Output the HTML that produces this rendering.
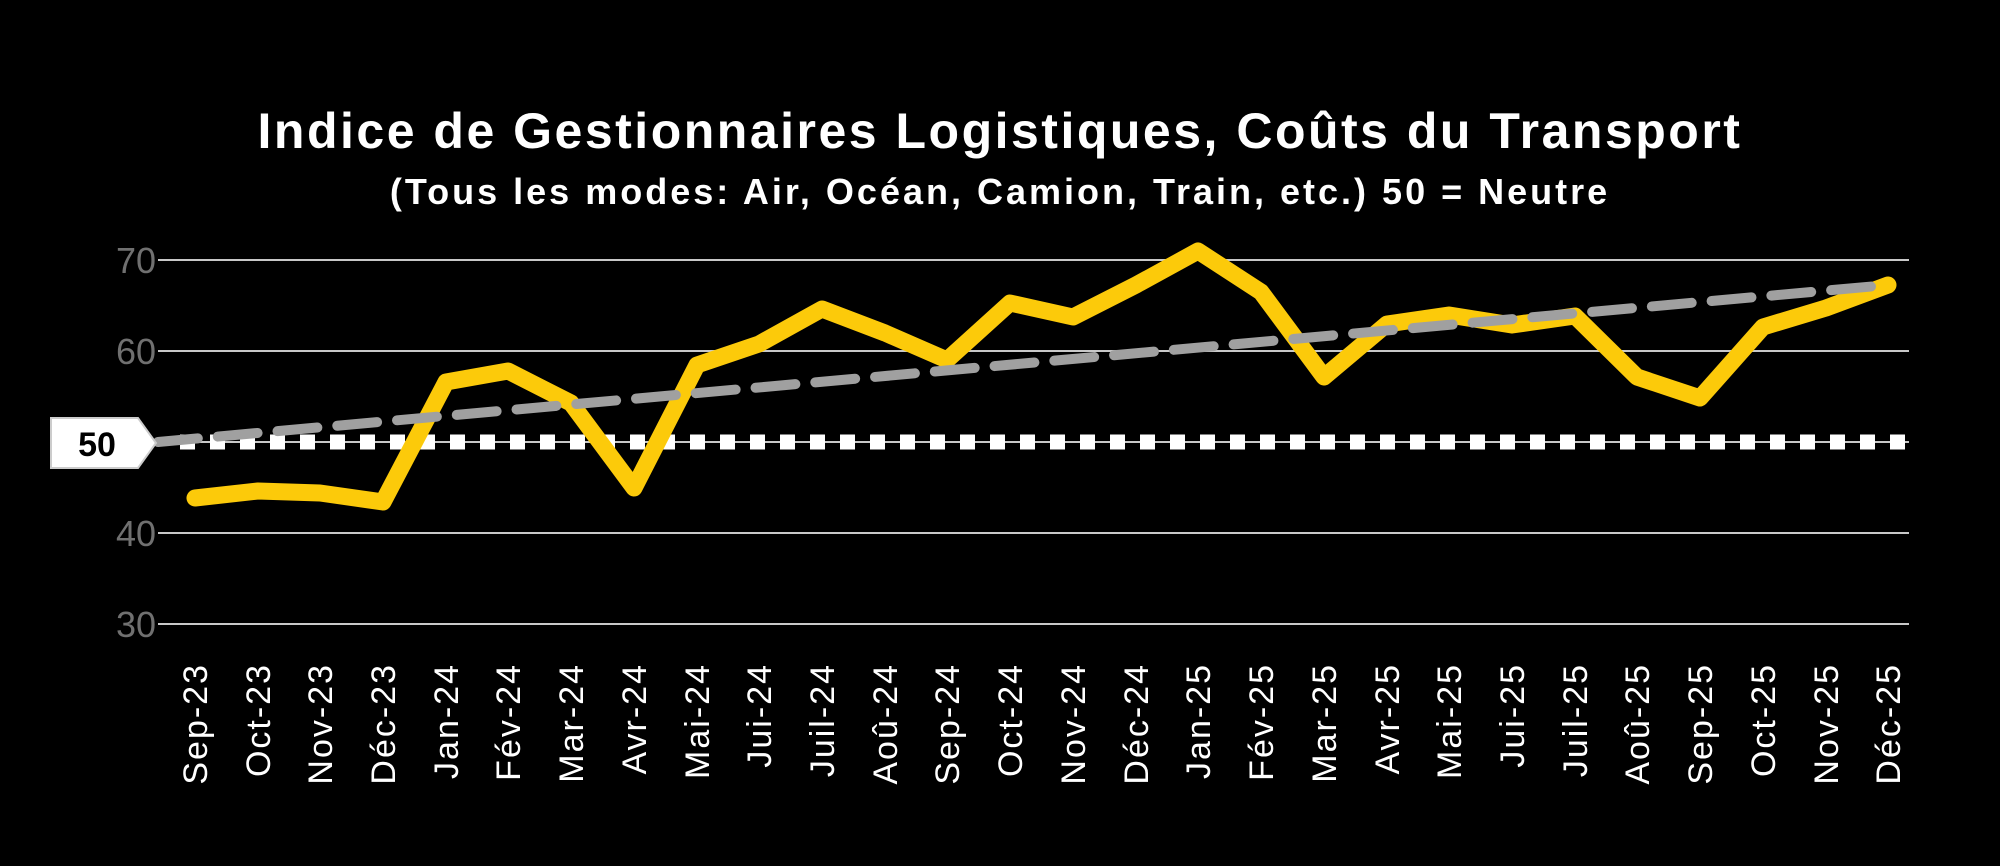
<!DOCTYPE html>
<html><head><style>
html,body{margin:0;padding:0;background:#000;}
</style></head><body>
<svg width="2000" height="866" xmlns="http://www.w3.org/2000/svg" style="display:block;background:#000;font-family:'Liberation Sans',sans-serif">
<text x="1000" y="148" text-anchor="middle" fill="#fff" font-size="50" font-weight="bold" letter-spacing="2.5">Indice de Gestionnaires Logistiques, Coûts du Transport</text>
<text x="1000" y="204" text-anchor="middle" fill="#fff" font-size="36" font-weight="bold" letter-spacing="3">(Tous les modes: Air, Océan, Camion, Train, etc.) 50 = Neutre</text>
<g stroke="#c8c8c8" stroke-width="2">
<line x1="158" y1="260" x2="1909" y2="260"/>
<line x1="158" y1="351" x2="1909" y2="351"/>
<line x1="158" y1="442" x2="1909" y2="442"/>
<line x1="158" y1="533" x2="1909" y2="533"/>
<line x1="158" y1="624" x2="1909" y2="624"/>
</g>
<g fill="#707070" font-size="36" text-anchor="end">
<text x="156" y="273">70</text>
<text x="156" y="364">60</text>
<text x="156" y="546">40</text>
<text x="156" y="637">30</text>
</g>
<line x1="180" y1="442" x2="1909" y2="442" stroke="#fff" stroke-width="15" stroke-dasharray="15 15"/>
<polyline fill="none" stroke="#fcca0a" stroke-width="17" stroke-linejoin="round" stroke-linecap="round" points="195,498 258,491 320,493 383,502 446,382 508,371 571,403 634,488 697,365 759,344 822,309 885,333 947,360 1010,303 1073,317 1136,285 1198,251 1261,292 1324,377 1387,324 1449,315 1512,325 1575,316 1637,377 1700,398 1763,327 1826,308 1888,285"/>
<line x1="158" y1="442" x2="1888" y2="285" stroke="#a0a0a0" stroke-width="10" stroke-dasharray="40 20" stroke-linecap="round"/>
<polygon points="51,418 138,418 156,443 138,468 51,468" fill="#fff" stroke="#ccc" stroke-width="2"/>
<text x="97" y="456" text-anchor="middle" fill="#000" font-size="34" font-weight="bold">50</text>
<g fill="#fff" font-size="34" text-anchor="end" letter-spacing="2">
<text transform="translate(207,663) rotate(-90)">Sep-23</text>
<text transform="translate(270,663) rotate(-90)">Oct-23</text>
<text transform="translate(332,663) rotate(-90)">Nov-23</text>
<text transform="translate(395,663) rotate(-90)">Déc-23</text>
<text transform="translate(458,663) rotate(-90)">Jan-24</text>
<text transform="translate(520,663) rotate(-90)">Fév-24</text>
<text transform="translate(583,663) rotate(-90)">Mar-24</text>
<text transform="translate(646,663) rotate(-90)">Avr-24</text>
<text transform="translate(709,663) rotate(-90)">Mai-24</text>
<text transform="translate(771,663) rotate(-90)">Jui-24</text>
<text transform="translate(834,663) rotate(-90)">Juil-24</text>
<text transform="translate(897,663) rotate(-90)">Aoû-24</text>
<text transform="translate(959,663) rotate(-90)">Sep-24</text>
<text transform="translate(1022,663) rotate(-90)">Oct-24</text>
<text transform="translate(1085,663) rotate(-90)">Nov-24</text>
<text transform="translate(1148,663) rotate(-90)">Déc-24</text>
<text transform="translate(1210,663) rotate(-90)">Jan-25</text>
<text transform="translate(1273,663) rotate(-90)">Fév-25</text>
<text transform="translate(1336,663) rotate(-90)">Mar-25</text>
<text transform="translate(1399,663) rotate(-90)">Avr-25</text>
<text transform="translate(1461,663) rotate(-90)">Mai-25</text>
<text transform="translate(1524,663) rotate(-90)">Jui-25</text>
<text transform="translate(1587,663) rotate(-90)">Juil-25</text>
<text transform="translate(1649,663) rotate(-90)">Aoû-25</text>
<text transform="translate(1712,663) rotate(-90)">Sep-25</text>
<text transform="translate(1775,663) rotate(-90)">Oct-25</text>
<text transform="translate(1838,663) rotate(-90)">Nov-25</text>
<text transform="translate(1900,663) rotate(-90)">Déc-25</text>
</g>
</svg>
</body></html>
